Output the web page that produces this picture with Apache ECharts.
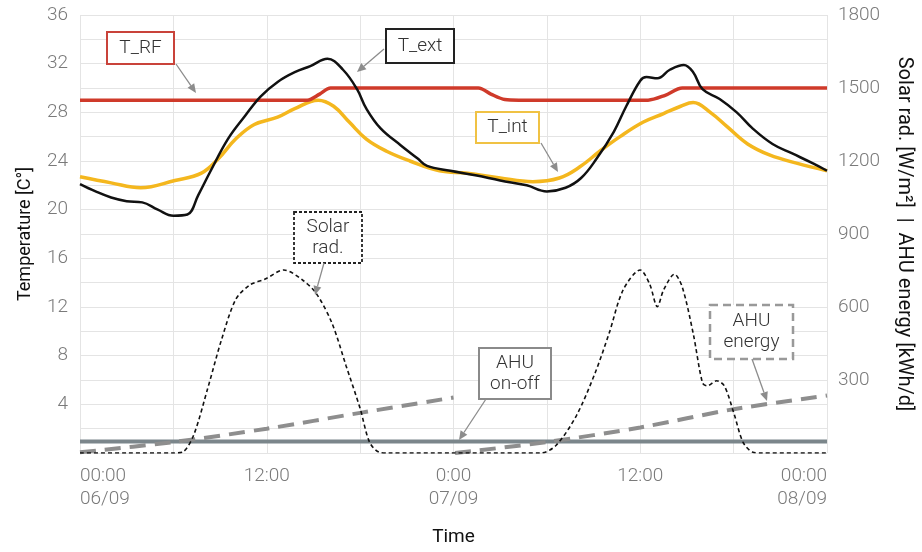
<!DOCTYPE html>
<html>
<head>
<meta charset="utf-8">
<script src="https://cdn.jsdelivr.net/npm/echarts@6/dist/echarts.min.js"></script>
<style>
  html, body { margin: 0; padding: 0; background: #fff; }
  #chart { width: 922px; height: 552px; }
</style>
</head>
<body>
<div id="chart"></div>
<script>
// hours since 06/09 00:00
const tickHours = [0, 12, 24, 36, 48];
const tickLabels = ['00:00\n06/09', '12:00', '0:00\n07/09', '12:00', '00:00\n08/09'];

// temperatures [h, °C]
const tRF = [[0, 29], [14.6, 29], [15.4, 29.5], [16.1, 30], [25.6, 30], [26.4, 29.5], [27.3, 29.05],
  [28.2, 29], [36.5, 29], [37.6, 29.4], [38.7, 30], [48, 30]];
const tExt = [[0, 22.1], [1, 21.5], [2, 21.0], [3, 20.7], [4, 20.6], [5, 20.0], [6, 19.5], [6.9, 19.6],
  [7.6, 21.2], [8.4, 23.2], [9.5, 25.8], [10.6, 27.7], [11.6, 29.3], [12.7, 30.5], [13.8, 31.3],
  [14.8, 31.8], [15.9, 32.4], [16.9, 31.5], [17.8, 29.9], [18.4, 28.3], [19.3, 26.7], [20.6, 25.3],
  [21.7, 24.2], [22.3, 23.6], [23.8, 23.2], [25.5, 22.8], [27, 22.4], [28.7, 22.0], [30, 21.5],
  [31.2, 21.8], [32.2, 22.6], [33.2, 24.2], [34.3, 26.4], [35.1, 28.5], [36, 30.6], [36.4, 30.9],
  [37.1, 30.8], [37.9, 31.5], [38.8, 31.9], [39.4, 31.3], [40, 29.9], [41.1, 29.1], [42.2, 28.0],
  [43.2, 26.7], [44.5, 25.4], [45.8, 24.6], [47.1, 23.8], [48, 23.2]];
const tInt = [[0, 22.7], [2, 22.2], [3.9, 21.8], [6.1, 22.4], [7.8, 23.0], [8.9, 24.2], [10, 25.8],
  [11.2, 27.0], [12.7, 27.6], [13.8, 28.3], [15.3, 29.0], [16.3, 28.5], [17.3, 27.2], [18.4, 25.8],
  [19.7, 24.8], [21.2, 24.0], [23.1, 23.2], [24.9, 23.0], [27, 22.6], [29.1, 22.3], [30.8, 22.6],
  [32.1, 23.5], [33.4, 24.8], [34.7, 26.0], [36.2, 27.2], [37.5, 27.9], [38.6, 28.5], [39.4, 28.8],
  [40.5, 28.0], [41.6, 26.8], [42.9, 25.4], [44.3, 24.5], [46.1, 23.8], [48, 23.2]];
const ahuOnOff = [[0, 0.95], [48, 0.95]];

// right axis [h, W/m2 | kWh/d]
const solarRad = [[0, 0], [3, 0], [6, 0], [6.6, 4], [7.3, 73], [8.2, 264], [9.1, 467], [10, 630],
  [10.9, 690], [11.9, 715], [13.1, 752], [14.3, 711], [15.2, 654], [16.2, 532], [17.1, 358],
  [18, 183], [18.6, 45], [19.2, 4], [19.8, 0], [24, 0], [27, 0], [29.6, 0], [30.6, 32], [31.9, 154],
  [33.1, 329], [34, 492], [34.9, 670], [36, 752], [36.6, 695], [37.1, 601], [37.5, 670], [38.2, 735],
  [38.7, 682], [39.4, 492], [40, 288], [40.3, 276], [40.9, 297], [41.4, 276], [42, 167], [42.6, 45],
  [43.2, 4], [43.8, 0], [46, 0], [48, 0]];
const ahuEnergy = [[0, 3], [6, 45], [12, 100], [18, 165], [24, 228], [24, '-'],
  [24.1, 0], [30, 45], [36, 105], [42, 180], [48, 236]];

const font = 'Roboto';
const gray = '#7a7a7a';

function box(x, y, w, h, text, stroke, dash, lw) {
  return [
    { type: 'rect', shape: { x: x, y: y, width: w, height: h },
      style: { fill: '#fff', stroke: stroke, lineWidth: lw, lineDash: dash }, z: 100 },
    { type: 'text', x: x + w / 2, y: y + h / 2, z: 101,
      style: { text: text, fill: '#333', font: '300 19px ' + font, align: 'center',
        verticalAlign: 'middle', lineHeight: 21 } }
  ];
}
function arrow(x1, y1, x2, y2) {
  const a = Math.atan2(y2 - y1, x2 - x1), L = 9, W = 4;
  const bx = x2 - L * Math.cos(a), by = y2 - L * Math.sin(a);
  return [
    { type: 'line', shape: { x1: x1, y1: y1, x2: bx, y2: by }, style: { stroke: '#8c8c8c', lineWidth: 1.3 }, z: 100 },
    { type: 'polygon', z: 100, shape: { points: [[x2, y2],
      [bx + W * Math.sin(a), by - W * Math.cos(a)], [bx - W * Math.sin(a), by + W * Math.cos(a)]] },
      style: { fill: '#8c8c8c' } }
  ];
}

const chart = echarts.init(document.getElementById('chart'));
chart.setOption({
  animation: false,
  textStyle: { fontFamily: font },
  grid: { left: 80, right: 95, top: 15, bottom: 94 },
  xAxis: {
    type: 'value', min: 0, max: 48, interval: 6,
    name: 'Time', nameLocation: 'middle', nameGap: 75,
    nameTextStyle: { color: '#111', fontSize: 19, fontFamily: font },
    axisLine: { show: false }, axisTick: { show: false },
    splitLine: { lineStyle: { color: '#e4e4e4', width: 1 } },
    axisLabel: {
      margin: 12, color: gray, fontSize: 19, lineHeight: 23, fontWeight: 300,
      alignMinLabel: 'left', alignMaxLabel: 'right',
      formatter: v => { const i = tickHours.indexOf(v); return i < 0 ? '' : tickLabels[i]; }
    }
  },
  yAxis: [{
    type: 'value', min: 0, max: 36, interval: 2,
    name: 'Temperature [C°]', nameLocation: 'middle', nameGap: 46,
    nameTextStyle: { color: '#111', fontSize: 18, fontFamily: font },
    axisLine: { show: false }, axisTick: { show: false },
    splitLine: { lineStyle: { color: '#e4e4e4', width: 1 } },
    axisLabel: { margin: 12, color: gray, fontSize: 19, fontWeight: 300,
      formatter: v => (v > 0 && v % 4 === 0) ? String(v) : '' }
  }, {
    type: 'value', min: 0, max: 1800, interval: 300, position: 'right',
    name: 'Solar rad. [W/m²]  |  AHU energy [kWh/d]', nameLocation: 'middle', nameGap: 67, nameRotate: -90,
    nameTextStyle: { color: '#111', fontSize: 20, fontFamily: font },
    axisLine: { show: false }, axisTick: { show: false }, splitLine: { show: false },
    axisLabel: { margin: 11, color: gray, fontSize: 19, fontWeight: 300,
      formatter: v => v > 0 ? String(v) : '' }
  }],
  series: [
    { name: 'AHU on-off', type: 'line', data: ahuOnOff, showSymbol: false,
      lineStyle: { color: '#7b868b', width: 4 } },
    { name: 'AHU energy', type: 'line', yAxisIndex: 1, data: ahuEnergy, showSymbol: false, smooth: 0.3,
      lineStyle: { color: '#8e8e8e', width: 4, type: [16, 9] } },
    { name: 'Solar rad.', type: 'line', yAxisIndex: 1, data: solarRad, showSymbol: false, smooth: 0.3,
      lineStyle: { color: '#111', width: 1.6, type: [4, 3] } },
    { name: 'T_int', type: 'line', data: tInt, showSymbol: false, smooth: 0.4,
      lineStyle: { color: '#f4b71e', width: 3.5 } },
    { name: 'T_RF', type: 'line', data: tRF, showSymbol: false, smooth: 0.3,
      lineStyle: { color: '#cf3a2a', width: 3.5 } },
    { name: 'T_ext', type: 'line', data: tExt, showSymbol: false, smooth: 0.4,
      lineStyle: { color: '#111', width: 2.5 } }
  ],
  graphic: [].concat(
    box(107, 32, 67, 32, 'T_RF', '#c9433a', null, 2),
    arrow(176, 64, 196, 93),
    box(386, 29, 68, 34, 'T_ext', '#222', null, 2),
    arrow(384, 49, 357, 72),
    box(476, 112, 63, 31, 'T_int', '#f0c244', null, 2),
    arrow(541, 143, 558, 172),
    box(294, 212, 68, 51, 'Solar\nrad.', '#222', [3, 2], 1.8),
    arrow(324, 263, 315, 295),
    box(479, 348, 72, 51, 'AHU\non-off', '#8a8a8a', null, 2),
    arrow(486, 399, 459, 440),
    box(710, 305, 83, 54, 'AHU\nenergy', '#999', [8, 5], 2.5),
    arrow(752, 359, 767, 401)
  )
});
</script>
</body>
</html>
